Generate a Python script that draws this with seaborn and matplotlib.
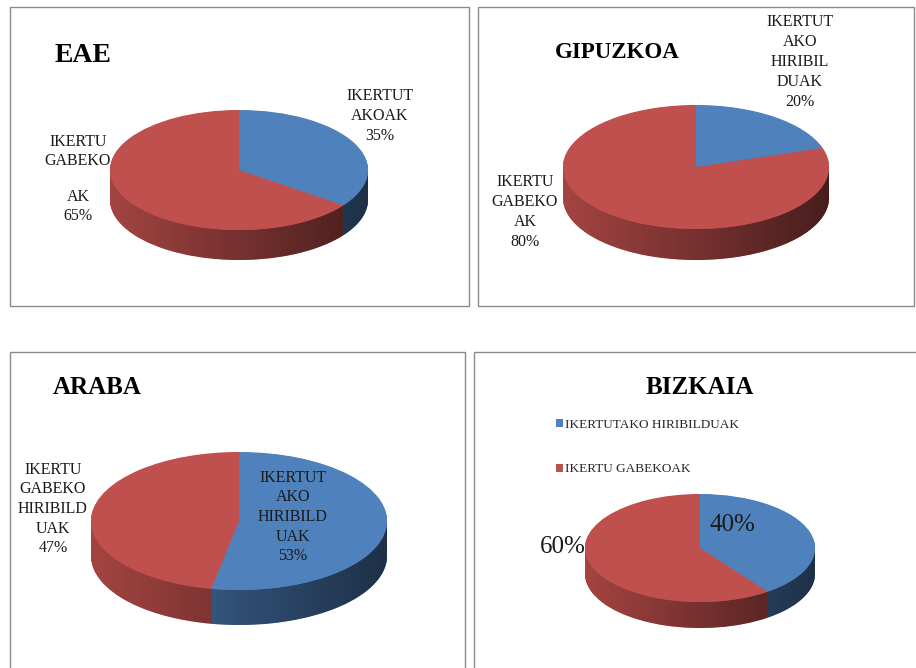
import numpy as np
import matplotlib
matplotlib.use("Agg")
import matplotlib.pyplot as plt
import seaborn as sns
from matplotlib.patches import Rectangle, Polygon

# ---------------- data ----------------
regions = ["EAE", "GIPUZKOA", "ARABA", "BIZKAIA"]
studied_pct = [35, 20, 53, 40]
unstudied_pct = [65, 80, 47, 60]
studied_labels = ["IKERTUT\nAKOAK\n35%",
                  "IKERTUT\nAKO\nHIRIBIL\nDUAK\n20%",
                  "IKERTUT\nAKO\nHIRIBILD\nUAK\n53%",
                  "40%"]
unstudied_labels = ["IKERTU\nGABEKO\n\nAK\n65%",
                    "IKERTU\nGABEKO\nAK\n80%",
                    "IKERTU\nGABEKO\nHIRIBILD\nUAK\n47%",
                    "60%"]
legend_labels = ["IKERTUTAKO HIRIBILDUAK", "IKERTU GABEKOAK"]

sns.set_theme(style="white")
palette = sns.color_palette(["#4F81BD", "#C0504D"])
plt.rcParams["font.family"] = ["Liberation Serif", "DejaVu Serif"]

W, H = 916, 668
fig = plt.figure(figsize=(W / 100, H / 100), dpi=100)
fig.patch.set_facecolor("white")


def fx(x):
    return x / W


def fy(y):
    return 1 - y / H


# panel borders (pixel boxes)
panels = [(10, 7, 469, 306), (478, 7, 914, 306), (10, 352, 465, 720), (474, 352, 960, 720)]
for (x0, y0, x1, y1) in panels:
    fig.add_artist(Rectangle((fx(x0), fy(y1)), (x1 - x0) / W, (y1 - y0) / H,
                             transform=fig.transFigure, fill=False,
                             edgecolor="#8a8a8a", lw=1.0))

# pie geometry: cx, cy (top-face centre), rx, ry, depth in pixels
geoms = [(239, 170, 129, 60, 30),
         (696, 167, 133, 62, 31),
         (239, 521, 148, 69, 35),
         (700, 548, 115, 54, 26)]


def draw_pie(vals, cx, cy, rx, ry, depth):
    d = depth / ry
    ax = fig.add_axes([fx(cx - rx), fy(cy + ry + depth), 2 * rx / W, (2 * ry + depth) / H])
    n = int(depth * 2)
    for k in np.linspace(d, 0, n, endpoint=False):
        ax.pie(vals, colors=palette, startangle=90, counterclock=False,
               center=(0, -k), radius=1, wedgeprops=dict(linewidth=0))
    t = np.linspace(np.pi, 2 * np.pi, 300)
    top = np.column_stack([np.cos(t), np.sin(t)])
    bot = np.column_stack([np.cos(t[::-1]), np.sin(t[::-1]) - d])
    band = Polygon(np.vstack([top, bot]), closed=True, facecolor="none",
                   edgecolor="none", transform=ax.transData)
    ax.add_patch(band)
    rgba = np.zeros((1, 256, 4))
    rgba[..., 3] = np.linspace(0.15, 0.63, 256)[None, :]
    im = ax.imshow(rgba, extent=(-1, 1, -1 - d, 0.0), aspect="auto",
                   zorder=3, interpolation="bilinear")
    im.set_clip_path(band)
    wedges, _ = ax.pie(vals, colors=palette, startangle=90, counterclock=False,
                       center=(0, 0), radius=1, wedgeprops=dict(linewidth=0))
    for w in wedges:
        w.set_zorder(4)
    ax.set_aspect("auto")
    ax.set_xlim(-1, 1)
    ax.set_ylim(-1 - d, 1)
    ax.axis("off")
    return ax, wedges


all_wedges = []
for i, g in enumerate(geoms):
    ax, wedges = draw_pie([studied_pct[i], unstudied_pct[i]], *g)
    all_wedges.append(wedges)

# titles
title_pos = [(83, 55, 20), (617, 52, 16.5), (97, 388, 18), (700, 387, 18)]
for name, (x, y, s) in zip(regions, title_pos):
    fig.text(fx(x), fy(y), name, ha="center", va="center", fontsize=s,
             fontweight="bold", color="black")

lab = dict(ha="center", va="center", fontsize=11.5, color="#1a1a1a")
# EAE
fig.text(fx(380), fy(116), studied_labels[0], linespacing=1.3, **lab)
fig.text(fx(78), fy(179), unstudied_labels[0], linespacing=1.2, **lab)
# GIPUZKOA
fig.text(fx(800), fy(62), studied_labels[1], linespacing=1.35, **lab)
fig.text(fx(525), fy(212), unstudied_labels[1], linespacing=1.35, **lab)
# ARABA
fig.text(fx(293), fy(517), studied_labels[2], linespacing=1.3, **lab)
fig.text(fx(53), fy(509), unstudied_labels[2], linespacing=1.3, **lab)
# BIZKAIA
fig.text(fx(732), fy(525), studied_labels[3], ha="center", va="center", fontsize=18, color="#1a1a1a")
fig.text(fx(563), fy(547), unstudied_labels[3], ha="center", va="center", fontsize=18, color="#1a1a1a")

fig.legend(handles=all_wedges[3], labels=legend_labels, loc="upper left",
           bbox_to_anchor=(fx(556), fy(419)), bbox_transform=fig.transFigure,
           frameon=False, fontsize=9.5, handlelength=0.55, handleheight=0.55,
           handletextpad=0.15, labelspacing=2.45, borderpad=0, borderaxespad=0)

fig.savefig("out.png", dpi=100)
